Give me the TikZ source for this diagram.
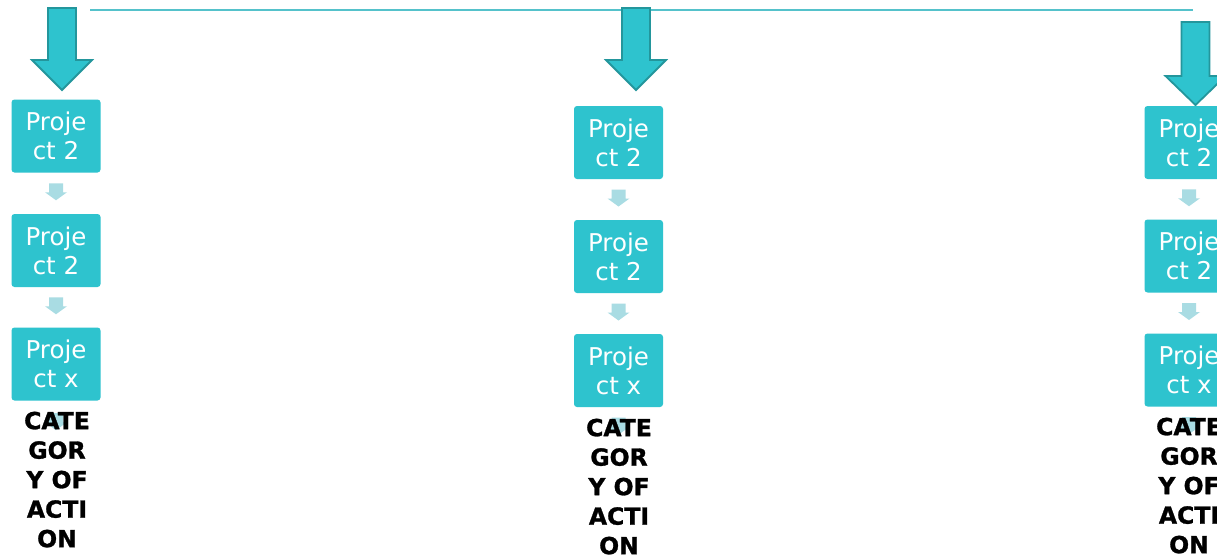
\documentclass[tikz,border=0pt]{standalone}
\usepackage{fontspec}
\setmainfont{DejaVu Sans}
\newfontfamily\catfont[FakeBold=1.2]{DejaVu Sans Bold}
\usetikzlibrary{calc}
\definecolor{boxc}{HTML}{2EC3CE}
\definecolor{arrb}{HTML}{23969C}
\definecolor{smallc}{HTML}{A9DCE3}
\definecolor{linec}{HTML}{55C2CB}
\tikzset{
  projbox/.style={fill=boxc, rounded corners=3pt, minimum width=89pt, minimum height=73pt,
    inner sep=0pt, text=white, align=center, font=\fontsize{24.5}{29}\selectfont},
  cattext/.style={align=center, inner sep=0pt, anchor=north,
    font=\fontsize{23.5}{29.5}\selectfont\catfont},
  bigarrow/.style={fill=boxc, draw=arrb, line width=1.8pt, line join=miter},
  smallarr/.pic={\fill[smallc] (-7,-8.5) -- (7,-8.5) -- (7,0.5) -- (11,0.5) -- (0,8.5) -- (-11,0.5) -- (-7,0.5) -- cycle;}
}
% cx, top, head start, tip
\newcommand{\BigArr}[4]{%
  \path[bigarrow] (#1-14,#2) -- (#1+14,#2) -- (#1+14,#3) -- (#1+30,#3) -- (#1,#4)
    -- (#1-30,#3) -- (#1-14,#3) -- cycle;}
\begin{document}
\begin{tikzpicture}[x=1pt,y=-1pt]
\clip (0,0) rectangle (1217,554);
\fill[white] (0,0) rectangle (1217,554);
% top line
\coordinate (lineA) at (90,10);
\coordinate (lineB) at (1193,10);
\draw[linec, line width=1.2pt] (lineA) -- (lineB);
% big arrows
\BigArr{62}{8}{60}{90}
\BigArr{636}{8}{60}{90}
\BigArr{1195.5}{22}{76}{105}
% left column
\node[projbox] (L1) at (56,136) {Proje\\ct 2};
\node[projbox] (L2) at (56,250.5) {Proje\\ct 2};
\node[projbox] (L3) at (56,364) {Proje\\ct x};
\pic at ($(L1.south)!0.5!(L2.north)+(0,-1.5)$) {smallarr};
\pic at ($(L2.south)!0.5!(L3.north)+(0,-1.5)$) {smallarr};
\pic at ($(L3.south)+(0,21)$) {smallarr};
\node[cattext] (LT) at (57,411.5) {CATE\\GOR\\Y OF\\ACTI\\ON};
% middle column
\node[projbox] (M1) at (618.5,142.5) {Proje\\ct 2};
\node[projbox] (M2) at (618.5,256.5) {Proje\\ct 2};
\node[projbox] (M3) at (618.5,370.5) {Proje\\ct x};
\pic at ($(M1.south)!0.5!(M2.north)+(0,-1.5)$) {smallarr};
\pic at ($(M2.south)!0.5!(M3.north)+(0,-1.5)$) {smallarr};
\pic at ($(M3.south)+(0,19)$) {smallarr};
\node[cattext] (MT) at (619,418.5) {CATE\\GOR\\Y OF\\ACTI\\ON};
% right column
\node[projbox] (R1) at (1189,142.5) {Proje\\ct 2};
\node[projbox] (R2) at (1189,256) {Proje\\ct 2};
\node[projbox] (R3) at (1189,370) {Proje\\ct x};
\pic at ($(R1.south)!0.5!(R2.north)+(0,-1.5)$) {smallarr};
\pic at ($(R2.south)!0.5!(R3.north)+(0,-1.5)$) {smallarr};
\pic at ($(R3.south)+(0,19)$) {smallarr};
\node[cattext] (RT) at (1189,417.5) {CATE\\GOR\\Y OF\\ACTI\\ON};
\end{tikzpicture}
\end{document}
